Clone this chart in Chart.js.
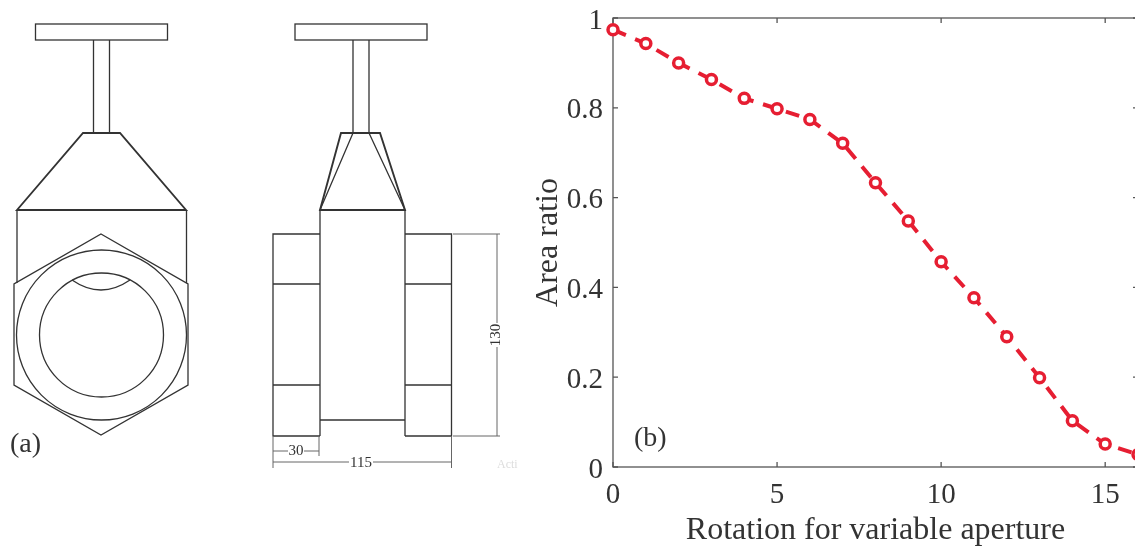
<!DOCTYPE html>
<html>
<head>
<meta charset="utf-8">
<title>Area ratio</title>
<script src="https://cdn.jsdelivr.net/npm/chart.js@4"></script>
<style>
    html, body { margin: 0; padding: 0; background: #fff; overflow: hidden; width: 1135px; height: 547px; }
    #drawing { position: absolute; left: 0; top: 0; filter: blur(0.4px); }
    #drawing .part { fill: none; stroke: #333; stroke-width: 1.3; }
    #drawing .thin { fill: none; stroke: #666; stroke-width: 1; }
    #drawing text { font-family: "Liberation Serif", serif; fill: #333; }
    #myChart { position: absolute; left: 0; top: 0; filter: blur(0.4px); }
</style>
</head>
<body>

<svg id="drawing" width="1135" height="547">
    <!-- front view -->
    <rect class="part" x="35.5" y="24" width="132" height="16"/>
    <path class="part" d="M93.5 40V133M109.5 40V133"/>
    <path class="part" d="M17 210L83 133H120L186 210Z" style="stroke-width:1.9"/>
    <path class="part" d="M17 210V283M186.500 210V283"/>
    <path class="part" d="M101 234L188 284V385L101 435L14 385V284Z"/>
    <circle class="part" cx="101.500" cy="335" r="85"/>
    <circle class="part" cx="101.500" cy="335" r="62"/>
    <path class="part" d="M72 280Q101 300 130 280"/>
    <text x="10" y="452" font-size="28">(a)</text>

    <!-- side view -->
    <rect class="part" x="295" y="24" width="132" height="16"/>
    <path class="part" d="M353 40V133M369 40V133"/>
    <path class="part" d="M341 133H380L405 210H320Z" style="stroke-width:1.9"/>
    <path class="part" d="M353 133L320 210M369 133L405 210"/>
    <path class="part" d="M320 210V436M405 210V436M320 420H405"/>
    <path class="part" d="M320 234H273V436H320M273 284H320M273 385H320"/>
    <path class="part" d="M405 234H451.500V436H405M405 284H451.500M405 385H451.500"/>

    <!-- dimensions -->
    <path class="thin" d="M453 234H500M453 436H500M497 234V323M497 347V436"/>
    <path class="thin" d="M273 437V468M319 437V456M451.500 437V468"/>
    <path class="thin" d="M273 451H288M304 451H319M273 462H349M373 462H451.500"/>
    <text font-size="15" text-anchor="middle" transform="translate(500 335) rotate(-90)">130</text>
    <text x="296" y="455" font-size="15" text-anchor="middle">30</text>
    <text x="361" y="467" font-size="15" text-anchor="middle">115</text>
    <text x="497" y="468" font-size="12" style="fill:#ddd">Acti</text>

    <text x="634" y="446" font-size="28">(b)</text>
</svg>

<canvas id="myChart" width="1140" height="547"></canvas>

<script>
const rotations = [0, 1, 2, 3, 4, 5, 6, 7, 8, 9, 10, 11, 12, 13, 14, 15, 16];
const areaRatios = [0.974, 0.943, 0.900, 0.863, 0.821, 0.798, 0.774, 0.721, 0.633, 0.548, 0.457, 0.377, 0.290, 0.199, 0.103, 0.051, 0.028];
const xTicks = [0, 5, 10, 15];
const yTicks = [0, 0.2, 0.4, 0.6, 0.8, 1];
const xTitle = 'Rotation for variable aperture';
const yTitle = 'Area ratio';


// inward ticks on all four sides and the box around the plot
const frameTicks = {
    id: 'frameTicks',
    beforeDatasetsDraw(chart) {
        const { ctx, chartArea, scales } = chart;
        const tickLen = 5;

        ctx.save();
        ctx.strokeStyle = '#555';
        ctx.lineWidth = 1.3;
        ctx.strokeRect(chartArea.left, chartArea.top, chartArea.width, chartArea.height);

        ctx.beginPath();
        xTicks.forEach(function (tick) {
            const x = scales.x.getPixelForValue(tick);
            ctx.moveTo(x, chartArea.bottom);
            ctx.lineTo(x, chartArea.bottom - tickLen);
            ctx.moveTo(x, chartArea.top);
            ctx.lineTo(x, chartArea.top + tickLen);
        });
        yTicks.forEach(function (tick) {
            const y = scales.y.getPixelForValue(tick);
            ctx.moveTo(chartArea.left, y);
            ctx.lineTo(chartArea.left + tickLen, y);
            ctx.moveTo(chartArea.right, y);
            ctx.lineTo(chartArea.right - tickLen, y);
        });
        ctx.stroke();
        ctx.restore();
    }
};


function useTicks(list) {
    return function (scale) {
        scale.ticks = list.map(function (value) {
            return { value: value };
        });
    };
}


function seeChart() {
    const ctx = document.getElementById('myChart');
    const serif = '"Liberation Serif", serif';

    new Chart(ctx, {
        type: 'line',
        data: {
            labels: rotations,
            datasets: [{
                data: rotations.map(function (rotation, i) {
                    return { x: rotation, y: areaRatios[i] };
                }),
                borderColor: '#e61e32',
                borderWidth: 4,
                borderDash: [14, 10],
                tension: 0,
                clip: false,
                pointRadius: 5,
                pointBorderWidth: 3.5,
                pointBorderColor: '#e61e32',
                pointBackgroundColor: '#ffffff'
            }]
        },
        options: {
            responsive: false,
            animation: false,
            layout: {
                autoPadding: false,
                padding: { left: 529, right: 2, top: 18, bottom: 0 }
            },
            plugins: {
                legend: { display: false },
                tooltip: { enabled: false }
            },
            scales: {
                x: {
                    type: 'linear',
                    min: 0,
                    max: 16,
                    afterBuildTicks: useTicks(xTicks),
                    afterFit(scale) {
                        scale.height = 80;
                        scale.paddingLeft = 0;
                        scale.paddingRight = 0;
                    },
                    grid: { display: false },
                    border: { display: false },
                    ticks: {
                        maxRotation: 0,
                        padding: 3,
                        color: '#333',
                        font: { family: serif, size: 29 },
                        callback: function (value) { return String(value); }
                    },
                    title: {
                        display: true,
                        text: xTitle,
                        color: '#333',
                        padding: { top: 0, bottom: -3 },
                        font: { family: serif, size: 32 }
                    }
                },
                y: {
                    min: 0,
                    max: 1,
                    afterBuildTicks: useTicks(yTicks),
                    afterFit(scale) {
                        scale.width = 84;
                        scale.paddingTop = 0;
                        scale.paddingBottom = 0;
                    },
                    grid: { display: false },
                    border: { display: false },
                    ticks: {
                        padding: 2,
                        labelOffset: 3,
                        color: '#333',
                        font: { family: serif, size: 29 },
                        callback: function (value) { return String(value); }
                    },
                    title: {
                        display: true,
                        text: yTitle,
                        color: '#333',
                        padding: 0,
                        font: { family: serif, size: 32 }
                    }
                }
            }
        },
        plugins: [frameTicks]
    });
}


seeChart();
</script>
</body>
</html>
